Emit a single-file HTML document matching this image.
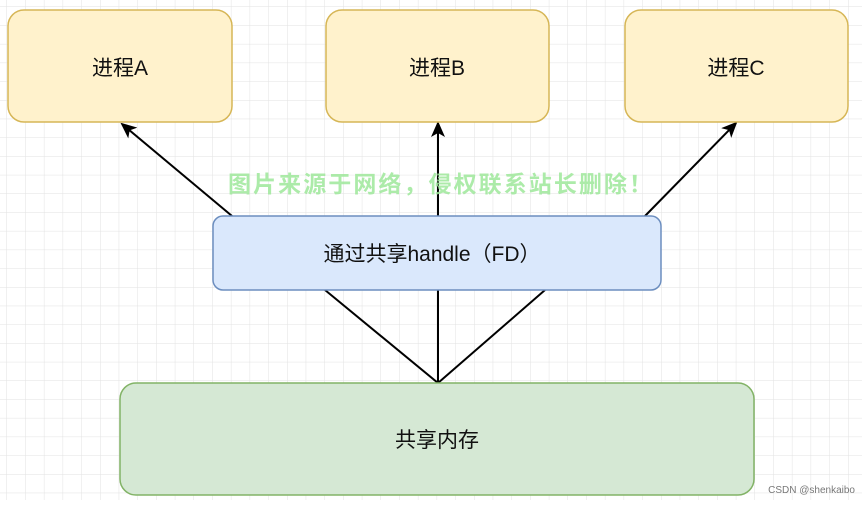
<!DOCTYPE html>
<html><head><meta charset="utf-8"><style>
body{margin:0;width:862px;height:500px;overflow:hidden;background:#fff;font-family:"Liberation Sans","Noto Sans CJK SC",sans-serif;}
</style></head><body>
<svg width="862" height="500" viewBox="0 0 862 500" xmlns="http://www.w3.org/2000/svg">
<defs>
<pattern id="g" width="18.7" height="18.7" patternUnits="userSpaceOnUse" x="7" y="7">
<path d="M18.7 0V18.7H0" fill="none" stroke="#e2e2e2" stroke-width="1"/>
</pattern>
<marker id="ar" markerWidth="16" markerHeight="14" refX="14" refY="7" orient="auto" markerUnits="userSpaceOnUse">
<path d="M0,0 L16,7 L0,14 L4,7 Z" fill="#000"/>
</marker>
</defs>
<rect width="862" height="500" fill="url(#g)"/>
<g stroke="#000" stroke-width="2" fill="none">
<line x1="232" y1="216" x2="122" y2="124" marker-end="url(#ar)"/>
<line x1="438" y1="216" x2="438" y2="123" marker-end="url(#ar)"/>
<line x1="645" y1="216" x2="736" y2="123" marker-end="url(#ar)"/>
<line x1="438" y1="383" x2="325" y2="290"/>
<line x1="438" y1="383" x2="438" y2="290"/>
<line x1="438" y1="383" x2="545" y2="290"/>
</g>
<g stroke="#d6b656" stroke-width="1.5" fill="#fff2cc">
<rect x="8" y="10" width="224" height="112" rx="16"/>
<rect x="326" y="10" width="223" height="112" rx="16"/>
<rect x="625" y="10" width="223" height="112" rx="16"/>
</g>
<rect x="213" y="216" width="448" height="74" rx="10" fill="#dae8fc" stroke="#6c8ebf" stroke-width="1.5"/>
<rect x="120" y="383" width="634" height="112" rx="16" fill="#d5e8d4" stroke="#82b366" stroke-width="1.5"/>
<g font-size="21" fill="#111" text-anchor="middle" font-family="Liberation Sans, Noto Sans CJK SC, sans-serif">
<text x="120" y="75">进程A</text>
<text x="437" y="75">进程B</text>
<text x="736" y="75">进程C</text>
<text x="432" y="261">通过共享handle（FD）</text>
<text x="437" y="447">共享内存</text>
</g>
<text x="228" y="192" font-size="23" font-weight="bold" fill="#9ee89a" fill-opacity="0.85" textLength="424" lengthAdjust="spacing" font-family="Liberation Sans, Noto Sans CJK SC, sans-serif">图片来源于网络，侵权联系站长删除！</text>
<text x="855" y="493" font-size="10" fill="#777" text-anchor="end">CSDN @shenkaibo</text>
</svg>
</body></html>
